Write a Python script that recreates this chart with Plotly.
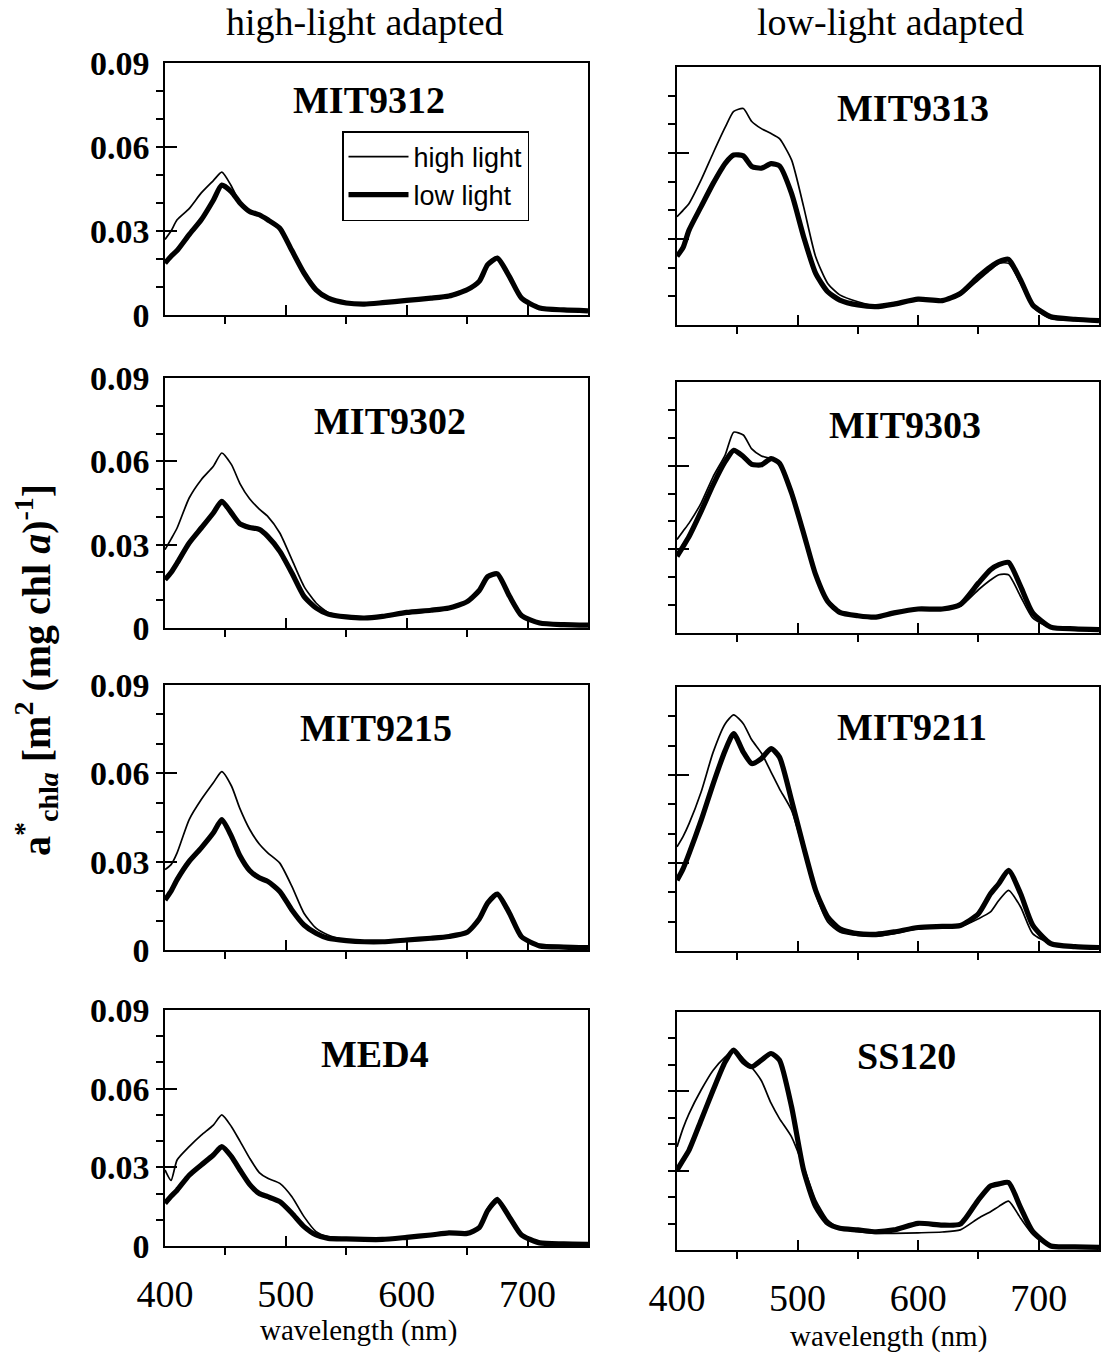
import plotly.graph_objects as go

# ---------------- data ----------------
wavelength = [400, 405, 410, 420, 430, 440, 447, 455, 462, 470, 478, 485, 495, 505, 515, 525,
              535, 550, 565, 580, 600, 620, 635, 650, 660, 667, 675, 685, 695, 710, 730, 750]

strains = ["MIT9312", "MIT9313", "MIT9302", "MIT9303", "MIT9215", "MIT9211", "MED4", "SS120"]

mit9312_high = [0.027, 0.030, 0.034, 0.038, 0.0436, 0.048, 0.051, 0.046, 0.040, 0.037, 0.0358, 0.034, 0.031, 0.023, 0.015, 0.009,
                0.006, 0.0043, 0.0039, 0.0044, 0.0052, 0.006, 0.0068, 0.009, 0.0125, 0.0185, 0.0203, 0.0137, 0.006, 0.0025, 0.0018, 0.0015]
mit9312_low = [0.0185, 0.021, 0.023, 0.0287, 0.034, 0.041, 0.0464, 0.044, 0.040, 0.037, 0.0358, 0.034, 0.031, 0.023, 0.015, 0.009,
               0.006, 0.0043, 0.0039, 0.0044, 0.0052, 0.006, 0.0068, 0.009, 0.012, 0.018, 0.0203, 0.0137, 0.006, 0.0025, 0.0018, 0.0015]

mit9302_high = [0.0282, 0.032, 0.036, 0.0468, 0.0534, 0.0582, 0.063, 0.0588, 0.052, 0.0465, 0.0428, 0.0402, 0.0342, 0.0246, 0.015, 0.009,
                0.0056, 0.0042, 0.0036, 0.0042, 0.0056, 0.0064, 0.0072, 0.0095, 0.0135, 0.0185, 0.0195, 0.0115, 0.0045, 0.0018, 0.0012, 0.001]
mit9302_low = [0.0174, 0.020, 0.0234, 0.0306, 0.036, 0.0414, 0.0456, 0.0414, 0.0375, 0.0362, 0.0355, 0.033, 0.0276, 0.0198, 0.0114, 0.0072,
               0.005, 0.004, 0.0036, 0.0042, 0.0056, 0.0064, 0.0072, 0.0095, 0.0135, 0.0185, 0.0195, 0.0115, 0.0045, 0.0018, 0.0012, 0.001]

mit9215_high = [0.0273, 0.029, 0.033, 0.0443, 0.0511, 0.0568, 0.0606, 0.0557, 0.048, 0.041, 0.036, 0.033, 0.0295, 0.0216, 0.0125, 0.0074,
                0.0051, 0.0034, 0.0028, 0.0028, 0.0034, 0.004, 0.0046, 0.006, 0.0105, 0.016, 0.019, 0.0125, 0.0045, 0.0014, 0.001, 0.0008]
mit9215_low = [0.017, 0.020, 0.0239, 0.0301, 0.0347, 0.0398, 0.0443, 0.0386, 0.032, 0.027, 0.0245, 0.0233, 0.0199, 0.0136, 0.0085, 0.0057,
               0.004, 0.0032, 0.0028, 0.0028, 0.0034, 0.004, 0.0046, 0.006, 0.0105, 0.016, 0.019, 0.0125, 0.0045, 0.0014, 0.001, 0.0008]

med4_high = [0.029, 0.025, 0.0328, 0.0379, 0.0423, 0.0461, 0.050, 0.0455, 0.040, 0.0335, 0.028, 0.0258, 0.0239, 0.0188, 0.0112, 0.0055,
             0.0036, 0.0029, 0.0025, 0.0025, 0.0033, 0.0042, 0.005, 0.0048, 0.0074, 0.0145, 0.0185, 0.0115, 0.0045, 0.0012, 0.0008, 0.0006]
med4_low = [0.0163, 0.019, 0.0213, 0.027, 0.0309, 0.0347, 0.0379, 0.0341, 0.029, 0.0235, 0.020, 0.0188, 0.0169, 0.0125, 0.0074, 0.0042,
            0.0029, 0.0027, 0.0025, 0.0025, 0.0033, 0.0042, 0.005, 0.0048, 0.007, 0.0135, 0.0175, 0.011, 0.0042, 0.0012, 0.0008, 0.0006]

mit9313_high = [0.0378, 0.040, 0.0424, 0.0506, 0.060, 0.069, 0.0745, 0.0755, 0.071, 0.0685, 0.0668, 0.065, 0.0576, 0.0413, 0.0238, 0.0145,
                0.0105, 0.0081, 0.0066, 0.0076, 0.009, 0.0085, 0.0105, 0.0157, 0.0192, 0.0215, 0.0215, 0.0145, 0.0064, 0.0023, 0.0015, 0.0012]
mit9313_low = [0.024, 0.027, 0.0331, 0.0413, 0.0494, 0.0564, 0.0593, 0.059, 0.0553, 0.0547, 0.0563, 0.0555, 0.0459, 0.0308, 0.018, 0.0116,
               0.0087, 0.007, 0.0064, 0.0073, 0.009, 0.0085, 0.011, 0.0169, 0.0203, 0.0221, 0.0229, 0.0157, 0.007, 0.0029, 0.002, 0.0015]

mit9303_high = [0.0335, 0.0365, 0.0394, 0.0466, 0.0561, 0.0639, 0.072, 0.071, 0.066, 0.0635, 0.0625, 0.0615, 0.0514, 0.037, 0.0215, 0.012,
                0.0078, 0.0063, 0.0057, 0.0072, 0.0086, 0.0084, 0.0096, 0.0155, 0.019, 0.0209, 0.0209, 0.0131, 0.0054, 0.0018, 0.0012, 0.001]
mit9303_low = [0.0275, 0.031, 0.0346, 0.0436, 0.0532, 0.0615, 0.0655, 0.0633, 0.0605, 0.0603, 0.0625, 0.0609, 0.0502, 0.0358, 0.0209, 0.0113,
               0.0074, 0.0062, 0.0057, 0.0072, 0.0086, 0.0086, 0.0102, 0.0179, 0.0227, 0.0245, 0.0253, 0.0167, 0.0072, 0.0021, 0.0015, 0.0012]

mit9211_high = [0.0355, 0.039, 0.0434, 0.0542, 0.0678, 0.0775, 0.0805, 0.0775, 0.072, 0.0675, 0.061, 0.0553, 0.048, 0.0343, 0.0195, 0.0099,
                0.0065, 0.0053, 0.005, 0.0059, 0.0076, 0.008, 0.0083, 0.011, 0.0133, 0.0173, 0.0207, 0.015, 0.0059, 0.0025, 0.0015, 0.0012]
mit9211_low = [0.0241, 0.028, 0.0332, 0.0445, 0.057, 0.0684, 0.0741, 0.0678, 0.0639, 0.0656, 0.069, 0.0661, 0.0514, 0.0355, 0.0207, 0.0116,
               0.0076, 0.0059, 0.0057, 0.0065, 0.008, 0.0084, 0.0087, 0.0127, 0.0195, 0.023, 0.0275, 0.0195, 0.0088, 0.0025, 0.0015, 0.0012]

ss120_high = [0.039, 0.046, 0.0516, 0.0605, 0.068, 0.073, 0.0756, 0.0724, 0.069, 0.064, 0.0555, 0.0497, 0.0428, 0.0315, 0.0189, 0.0113,
              0.0082, 0.0069, 0.0063, 0.0063, 0.0065, 0.0068, 0.0076, 0.012, 0.0145, 0.0165, 0.0185, 0.012, 0.006, 0.0019, 0.0014, 0.0012]
ss120_low = [0.0302, 0.034, 0.0378, 0.0491, 0.0605, 0.0712, 0.0756, 0.0712, 0.0693, 0.0718, 0.0743, 0.0718, 0.0542, 0.0302, 0.0164, 0.0101,
             0.0082, 0.0076, 0.0069, 0.0076, 0.0101, 0.0094, 0.0098, 0.019, 0.0242, 0.025, 0.0255, 0.016, 0.007, 0.0015, 0.0012, 0.001]

high_series = [mit9312_high, mit9313_high, mit9302_high, mit9303_high, mit9215_high, mit9211_high, med4_high, ss120_high]
low_series = [mit9312_low, mit9313_low, mit9302_low, mit9303_low, mit9215_low, mit9211_low, med4_low, ss120_low]

y_ticks = [0, 0.03, 0.06, 0.09]
y_tick_text = ["0", "0.03", "0.06", "0.09"]
y_minor = [0, 0.01, 0.02, 0.03, 0.04, 0.05, 0.06, 0.07, 0.08, 0.09]
x_ticks = [400, 500, 600, 700]
x_minor = [450, 550, 650, 750]

# ---------------- layout geometry (pixels) ----------------
W, H = 1103, 1353
col_px = [(165, 588), (677, 1099)]
row_px = [[(63, 315), (67, 325)],
          [(378, 628), (382, 633)],
          [(685, 950), (687, 951)],
          [(1010, 1246), (1012, 1250)]]
title_px = [(369, 100), (913, 108), (390, 421), (905, 425), (376, 728), (912, 727), (375, 1054), (906, 1056)]

SERIF = "Liberation Serif, Times New Roman, serif"
SANS = "Liberation Sans, Arial, sans-serif"

fig = go.Figure()
layout = dict(
    template="none",
    width=W, height=H, margin=dict(l=0, r=0, t=0, b=0, autoexpand=False),
    paper_bgcolor="white", plot_bgcolor="white",
    showlegend=True,
    legend=dict(x=342 / W, y=1 - 131 / H, xanchor="left", yanchor="top",
                bordercolor="black", borderwidth=1.5, bgcolor="white",
                font=dict(family=SANS, size=27, color="black"),
                itemwidth=60, tracegroupgap=0, traceorder="normal"),
)

annotations = []
for i, name in enumerate(strains):
    r, c = divmod(i, 2)
    ax = i + 1
    xn = "x" if ax == 1 else f"x{ax}"
    yn = "y" if ax == 1 else f"y{ax}"
    x0, x1 = col_px[c]
    yt, yb = row_px[r][c]
    bottom = (r == 3)
    left = (c == 0)

    fig.add_trace(go.Scatter(x=wavelength, y=high_series[i], mode="lines", xaxis=xn, yaxis=yn,
                             line=dict(color="black", width=1.7, shape="spline", smoothing=0.6),
                             name="high light", legendgroup="high", showlegend=(i == 0)))
    fig.add_trace(go.Scatter(x=wavelength, y=low_series[i], mode="lines", xaxis=xn, yaxis=yn,
                             line=dict(color="black", width=5.2, shape="spline", smoothing=0.6),
                             name="low light", legendgroup="low", showlegend=(i == 0)))

    layout["xaxis" if ax == 1 else f"xaxis{ax}"] = dict(
        domain=[x0 / W, x1 / W], range=[400, 750], anchor=yn, automargin=False,
        showline=True, linecolor="black", linewidth=1.6, mirror=True,
        showgrid=False, zeroline=False,
        tickmode="array", tickvals=x_ticks, ticktext=[str(v) for v in x_ticks],
        ticks="inside", ticklen=10, tickwidth=1.6, tickcolor="black",
        minor=dict(tickmode="array", tickvals=x_minor, ticks="outside",
                   ticklen=7, tickwidth=1.6, tickcolor="black"),
        showticklabels=bottom, ticklabelstandoff=14,
        tickfont=dict(family=SERIF, size=38, color="black"),
    )
    layout["yaxis" if ax == 1 else f"yaxis{ax}"] = dict(
        domain=[1 - yb / H, 1 - yt / H], range=[0, 0.09], anchor=xn, automargin=False,
        showline=True, linecolor="black", linewidth=1.6, mirror=True,
        showgrid=False, zeroline=False,
        tickmode="array", tickvals=y_ticks, ticktext=y_tick_text,
        ticks="inside", ticklen=12, tickwidth=1.6, tickcolor="black",
        minor=dict(tickmode="array", tickvals=y_minor,
                   ticks="outside", ticklen=7, tickwidth=1.6, tickcolor="black"),
        showticklabels=left, ticklabelstandoff=7,
        tickfont=dict(family=SERIF, size=34, color="black", weight="bold"),
    )

    tx, ty = title_px[i]
    annotations.append(dict(text=f"<b>{name}</b>", x=tx / W, y=1 - ty / H, xref="paper", yref="paper",
                            xanchor="center", yanchor="middle", showarrow=False,
                            font=dict(family=SERIF, size=38, color="black")))

# column headers and axis titles
annotations += [
    dict(text="high-light adapted", x=365 / W, y=1 - 22 / H, xref="paper", yref="paper",
         xanchor="center", yanchor="middle", showarrow=False, font=dict(family=SERIF, size=38, color="black")),
    dict(text="low-light adapted", x=890 / W, y=1 - 22 / H, xref="paper", yref="paper",
         xanchor="center", yanchor="middle", showarrow=False, font=dict(family=SERIF, size=38, color="black")),
    dict(text="wavelength (nm)", x=358 / W, y=1 - 1330 / H, xref="paper", yref="paper",
         xanchor="center", yanchor="middle", showarrow=False, font=dict(family=SERIF, size=29, color="black")),
    dict(text="wavelength (nm)", x=888 / W, y=1 - 1336 / H, xref="paper", yref="paper",
         xanchor="center", yanchor="middle", showarrow=False, font=dict(family=SERIF, size=29, color="black")),
    dict(text="a<sup>*</sup><sub>chl<i>a</i></sub> [m<sup>2</sup> (mg chl <i>a</i>)<sup>-1</sup>]",
         x=36 / W, y=1 - 670 / H, xref="paper", yref="paper", textangle=-90,
         xanchor="center", yanchor="middle", showarrow=False,
         font=dict(family=SERIF, size=40, color="black", weight="bold")),
]
layout["annotations"] = annotations
fig.update_layout(**layout)

fig.write_html("out.html")
